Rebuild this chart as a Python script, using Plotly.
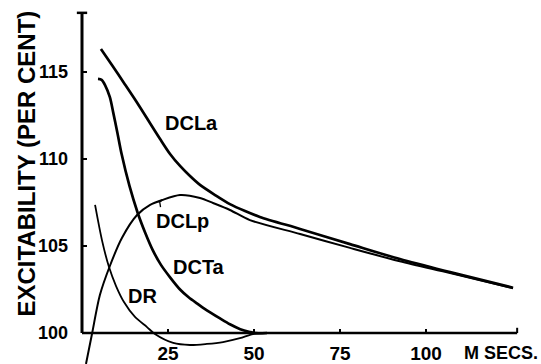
import plotly.graph_objects as go

# ---- data ----
dcla_x = [5.5, 8.7, 12.2, 15.7, 19.2, 22.7, 25.6, 28.5, 31.4, 34.3, 38.7, 43.0, 47.4, 51.7, 63.4, 77.9, 92.4, 107.0, 125.3]
dcla_y = [116.32, 115.4, 114.37, 113.33, 112.24, 111.15, 110.29, 109.6, 109.02, 108.51, 107.93, 107.41, 107.01, 106.67, 105.98, 105.11, 104.25, 103.5, 102.6]

dclp_x = [1.16, 2.9, 5.2, 8.1, 11.6, 16.0, 19.8, 23.3, 28.5, 34.3, 38.1, 43.0, 48.8, 63.4, 77.9, 92.4, 107.0, 125.3]
dclp_y = [98.22, 99.94, 102.18, 103.85, 105.46, 106.78, 107.36, 107.64, 107.93, 107.76, 107.47, 107.07, 106.49, 105.69, 104.89, 104.12, 103.44, 102.57]

dcta_x = [4.65, 5.7, 6.7, 8.1, 9.1, 10.3, 11.5, 13.8, 16.2, 18.4, 20.6, 23, 25.6, 28.5, 31, 33.4, 36.3, 40, 43, 46, 48.8, 50.5, 53.8]
dcta_y = [114.6, 114.55, 114.25, 113.55, 112.65, 111.5, 110.3, 108.45, 106.9, 105.75, 104.75, 103.9, 103.2, 102.5, 102.05, 101.7, 101.3, 100.85, 100.5, 100.22, 100.06, 99.99, 100.0]

dr_x = [3.8, 5.8, 7.85, 9.9, 12.2, 15.4, 18.9, 21.2, 26.5, 31.4, 36.3, 41, 45.9, 49.7, 53.8]
dr_y = [107.36, 105.34, 103.79, 102.7, 101.78, 100.92, 100.34, 99.94, 99.43, 99.31, 99.37, 99.48, 99.7, 99.94, 100.0]

x_ticks = [25, 50, 75, 100]
x_ticklabels = ["25", "50", "75", "100"]
y_ticks = [100, 105, 110, 115]
y_ticklabels = ["100", "105", "110", "115"]

curve_labels = ["DCLa", "DCLp", "DCTa", "DR"]
label_x = [31.7, 29.2, 33.9, 17.6]
label_y = [112.05, 106.45, 103.8, 102.15]

X_END = 126.5
Y_TOP = 118.4

# ---- figure geometry ----
W, H = 541, 364
x0_px, y100_px = 82, 333
sx, sy = 3.44, 17.4
xr = [-x0_px / sx, (W - x0_px) / sx]
yr = [100 - (H - y100_px) / sy, 100 + y100_px / sy]

font = "Liberation Sans, Arial, sans-serif"
fig = go.Figure()

series = [
    (dcla_x, dcla_y, 2.7),
    (dclp_x, dclp_y, 2.0),
    (dcta_x, dcta_y, 2.7),
    (dr_x, dr_y, 1.8),
]
for xs, ys, w in series:
    fig.add_trace(go.Scatter(x=xs, y=ys, mode="lines",
                             line=dict(color="black", width=w, shape="spline", smoothing=0.8),
                             showlegend=False, hoverinfo="skip"))

# axis lines (structure)
fig.add_shape(type="line", x0=0, x1=0, y0=100, y1=Y_TOP, line=dict(color="black", width=3))
fig.add_shape(type="line", x0=-1.5, x1=1.5, y0=Y_TOP, y1=Y_TOP, line=dict(color="black", width=2.5))
fig.add_shape(type="line", x0=0, x1=X_END, y0=100, y1=100, line=dict(color="black", width=2.5))
fig.add_shape(type="line", x0=X_END, x1=X_END, y0=100, y1=100.3, line=dict(color="black", width=2))

for t, xx, yy in zip(curve_labels, label_x, label_y):
    fig.add_annotation(x=xx, y=yy, text=t, showarrow=False,
                       font=dict(family=font, size=20, color="black", weight="bold"))

# small pointer from DCLp label to its curve
fig.add_annotation(x=22.5, y=107.65, ax=22.9, ay=107.15, axref="x", ayref="y",
                   text="", showarrow=True, arrowhead=1, arrowsize=0.6, arrowwidth=1.3,
                   arrowcolor="black")

fig.add_annotation(x=540 / W, y=1 - 353 / H, xref="paper", yref="paper",
                   xanchor="right", yanchor="middle", text="M SECS.", showarrow=False,
                   font=dict(family=font, size=18, color="black", weight="bold"))

fig.add_annotation(x=26 / W, y=1 - 163.5 / H, xref="paper", yref="paper",
                   xanchor="center", yanchor="middle",
                   text="EXCITABILITY (PER CENT)", textangle=-90, showarrow=False,
                   font=dict(family=font, size=24, color="black", weight="bold"))

fig.update_layout(
    width=W, height=H,
    margin=dict(l=0, r=0, t=0, b=0),
    paper_bgcolor="white", plot_bgcolor="white",
    xaxis=dict(range=xr, anchor="free", position=(H - y100_px) / H,
               showline=False, showgrid=False, zeroline=False,
               tickmode="array", tickvals=x_ticks, ticktext=x_ticklabels,
               ticks="inside", ticklen=4, tickwidth=2, tickcolor="black",
               ticklabelstandoff=7,
               tickfont=dict(family=font, size=19, color="black", weight="bold")),
    yaxis=dict(range=yr, anchor="free", position=x0_px / W,
               showline=False, showgrid=False, zeroline=False,
               tickmode="array", tickvals=y_ticks, ticktext=y_ticklabels,
               ticks="inside", ticklen=4, tickwidth=2, tickcolor="black",
               ticklabelstandoff=14,
               tickfont=dict(family=font, size=18, color="black", weight="bold")),
)

fig.write_html("out.html")
